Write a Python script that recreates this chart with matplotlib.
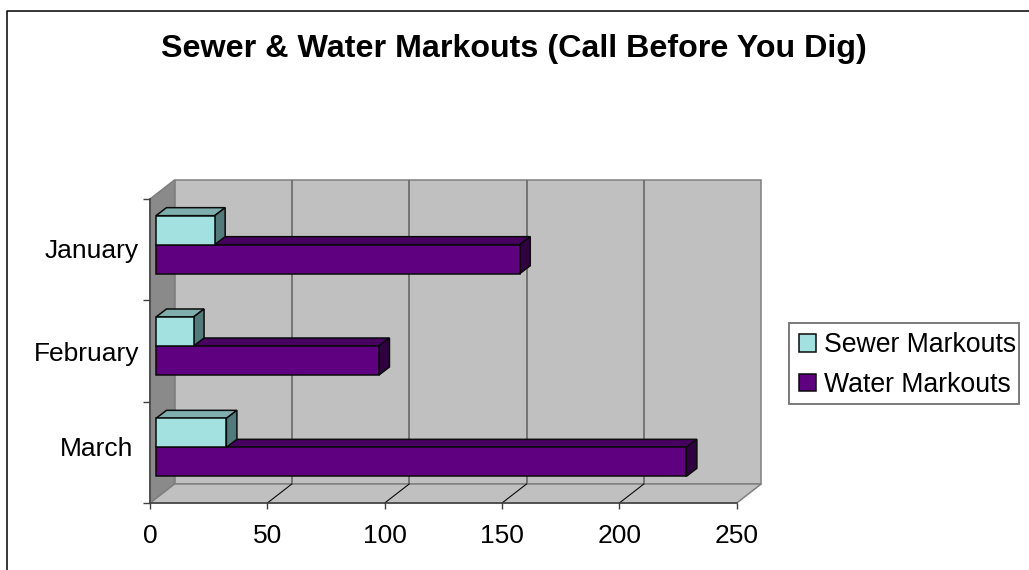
import matplotlib
matplotlib.use("Agg")
import matplotlib.pyplot as plt
from matplotlib.lines import Line2D
from matplotlib.patches import Rectangle
from matplotlib.transforms import ScaledTranslation

plt.rcParams["font.family"] = ["Liberation Sans", "DejaVu Sans"]

months = ["March", "February", "January"]
sewer = [30, 16, 25]
water = [226, 95, 155]
x_ticks = [0, 50, 100, 150, 200, 250]

W, H = 1029, 570
# front plane of the fake 3d box, in pixels
left, right, top, bottom = 150, 736.7, 199, 503

fig = plt.figure(figsize=(W / 100, H / 100), dpi=100)
ax = fig.add_axes([left / W, 1 - bottom / H, (right - left) / W, (bottom - top) / H])
ax.set_xlim(0, 250)
ax.set_ylim(0, 3)
ax.patch.set_visible(False)
for s in ax.spines.values():
    s.set_visible(False)

ux = 250 / (right - left)
uy = 3 / (bottom - top)
# box depth and bar depth, px converted to data units
dx, dy = 24.5 * ux, 19 * uy
bx, by = 10.5 * ux, 8 * uy
# bars stand a bit inside the box
sx, sy = 6 * ux, 5 * uy
bar_h = 29 * uy
line = "#0a0a0a"
gray = "#808080"


def poly(xs, ys, color, edge=gray, lw=1.1, z=1):
    ax.fill(xs, ys, facecolor=color, edgecolor=edge, linewidth=lw, zorder=z, clip_on=False)


# walls and floor
poly([dx, 250 + dx, 250 + dx, dx], [dy, dy, 3 + dy, 3 + dy], "#c0c0c0")
poly([0, dx, dx, 0], [0, dy, 3 + dy, 3], "#8a8a8a")
poly([0, 250, 250 + dx, dx], [0, 0, dy, dy], "#c0c0c0")
for v in x_ticks[1:-1]:
    ax.plot([v + dx, v + dx], [dy, 3 + dy], color="#6e6e6e", lw=1.3, zorder=1.5,
            solid_capstyle="butt", clip_on=False)
for v in x_ticks[:-1]:
    ax.plot([v, v + dx], [0, dy], color=line if v else gray, lw=0.8, zorder=1.5, clip_on=False)
ax.plot([0, 250], [0, 0], color="#404040", lw=1.1, zorder=1.6, clip_on=False)
ax.plot([0, 0], [0, 3], color="#404040", lw=1.1, zorder=1.6, clip_on=False)


def bar3d(vals, y0, front, upper, side, label, z):
    bars = ax.barh([i + y0 for i in range(3)], vals, height=bar_h, left=sx, color=front,
                   edgecolor=line, linewidth=1.1, zorder=z + 0.5, label=label, clip_on=False)
    for i, v in enumerate(vals):
        y = i + y0
        x1 = sx + v
        poly([sx, x1, x1 + bx, sx + bx], [y + bar_h / 2, y + bar_h / 2, y + bar_h / 2 + by, y + bar_h / 2 + by],
             upper, edge=line, z=z)
        poly([x1, x1 + bx, x1 + bx, x1], [y - bar_h / 2, y - bar_h / 2 + by, y + bar_h / 2 + by, y + bar_h / 2],
             side, edge=line, z=z)
    return bars


# y0 is the bar centre in category units
c = 0.5 + sy
w_bars = bar3d(water, c - bar_h / 2, "#5f0080", "#470060", "#300040", "Water Markouts", 2)
s_bars = bar3d(sewer, c + bar_h / 2, "#a3e1e1", "#7eaeae", "#537a7a", "Sewer Markouts", 3)

ax.set_xticks(x_ticks)
ax.set_xticklabels([str(v) for v in x_ticks], fontsize=19)
ax.tick_params(axis="x", length=4, width=1, color="#404040", pad=11)
ax.set_yticks([0, 1, 2, 3])
ax.set_yticklabels([])
ax.tick_params(axis="y", length=5, width=1, color="#404040")
ax.set_yticks([0.56, 1.5, 2.51], minor=True)
ax.set_yticklabels(months, minor=True, fontsize=19)
ax.tick_params(axis="y", which="minor", length=0, pad=8)
# March sits a little further left in the reference
lab = ax.get_yticklabels(minor=True)[0]
lab.set_transform(lab.get_transform() + ScaledTranslation(-0.06, 0, fig.dpi_scale_trans))

fig.text(513.5 / W, 1 - 49 / H, "Sewer & Water Markouts (Call Before You Dig)", fontsize=23.2,
         fontweight="bold", ha="center", va="center")

# legend frame drawn apart, right padding is tighter than the left one
fig.add_artist(Rectangle((789 / W, 1 - 404 / H), 230 / W, 81 / H, transform=fig.transFigure,
                         facecolor="white", edgecolor="#707070", linewidth=1.3))
leg = fig.legend(handles=[s_bars, w_bars], loc="center left", bbox_to_anchor=(789 / W, 1 - 365 / H),
                 fontsize=19.2, frameon=False, handlelength=0.63, handleheight=0.63,
                 handletextpad=0.32, borderpad=0.38, labelspacing=0.5, borderaxespad=0)

# only the top and left edges of the outer border are in the picture
fig.add_artist(Line2D([6.5 / W, 6.5 / W, 1], [0, 1 - 10.5 / H, 1 - 10.5 / H], color="black", linewidth=1.1))

fig.savefig("out.png", dpi=100)
